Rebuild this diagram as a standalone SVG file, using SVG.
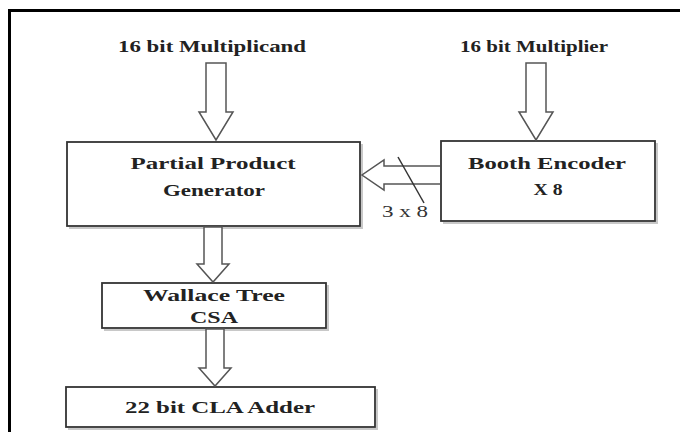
<svg xmlns="http://www.w3.org/2000/svg" width="680" height="432" viewBox="0 0 680 432">
<style>
.box{fill:#fff;stroke:#333;stroke-width:1.8}
.shadow{fill:none;stroke:#c8c8c8;stroke-width:2}
.t{font-family:"Liberation Serif","Times New Roman",serif;font-weight:bold;font-size:17px;fill:#222;text-anchor:middle}
.r{font-family:"Liberation Serif","Times New Roman",serif;font-size:17px;fill:#333;text-anchor:middle}
.arr{fill:#fff;stroke:#555;stroke-width:1.5;stroke-linejoin:miter}
</style>
<rect width="680" height="432" fill="#fff"/>
<path d="M9.5 432 V10.5 H680" fill="none" stroke="#000" stroke-width="3"/>

<text class="t" x="212" y="52" textLength="188" lengthAdjust="spacingAndGlyphs">16 bit Multiplicand</text>
<text class="t" x="534" y="52" textLength="148" lengthAdjust="spacingAndGlyphs">16 bit Multiplier</text>

<g id="ppg">
<path class="shadow" d="M69 228 H362 V144"/>
<rect class="box" x="67" y="142" width="293" height="84"/>
<text class="t" x="213" y="169" textLength="165" lengthAdjust="spacingAndGlyphs">Partial Product</text>
<text class="t" x="214" y="196" textLength="102" lengthAdjust="spacingAndGlyphs">Generator</text>
</g>
<g id="booth">
<path class="shadow" d="M443 223 H657 V143"/>
<rect class="box" x="441" y="141" width="214" height="80"/>
<text class="t" x="547" y="169" textLength="158" lengthAdjust="spacingAndGlyphs">Booth Encoder</text>
<text class="t" x="548" y="195" textLength="29" lengthAdjust="spacingAndGlyphs">X 8</text>
</g>
<g id="wallace">
<path class="shadow" d="M104 330 H328 V285"/>
<rect class="box" x="102" y="283" width="224" height="45"/>
<text class="t" x="214" y="301" textLength="142" lengthAdjust="spacingAndGlyphs">Wallace Tree</text>
<text class="t" x="214" y="323" textLength="48" lengthAdjust="spacingAndGlyphs">CSA</text>
</g>
<g id="cla">
<path class="shadow" d="M68 429 H377 V389"/>
<rect class="box" x="66" y="387" width="309" height="40"/>
<text class="t" x="220" y="413" textLength="190" lengthAdjust="spacingAndGlyphs">22 bit CLA Adder</text>
</g>

<g id="connectors">
<path class="arr" d="M206 63 H226 V112 H233 L216 140 L199 112 H206 Z"/>
<path class="arr" d="M526 63 H546 V112 H553 L536 140 L519 112 H526 Z"/>
<path class="arr" d="M204 227 H222 V264 H229 L213 282 L197 264 H204 Z"/>
<path class="arr" d="M206 329 H224 V368 H231 L215 386 L199 368 H206 Z"/>
<path class="arr" d="M440 166 H384 V160 L362 175 L384 190 V184 H440"/>
<line x1="398" y1="157" x2="424" y2="203" stroke="#333" stroke-width="1.5"/>
<text class="r" x="405" y="217" textLength="46" lengthAdjust="spacingAndGlyphs">3 x 8</text>
</g>
</svg>
